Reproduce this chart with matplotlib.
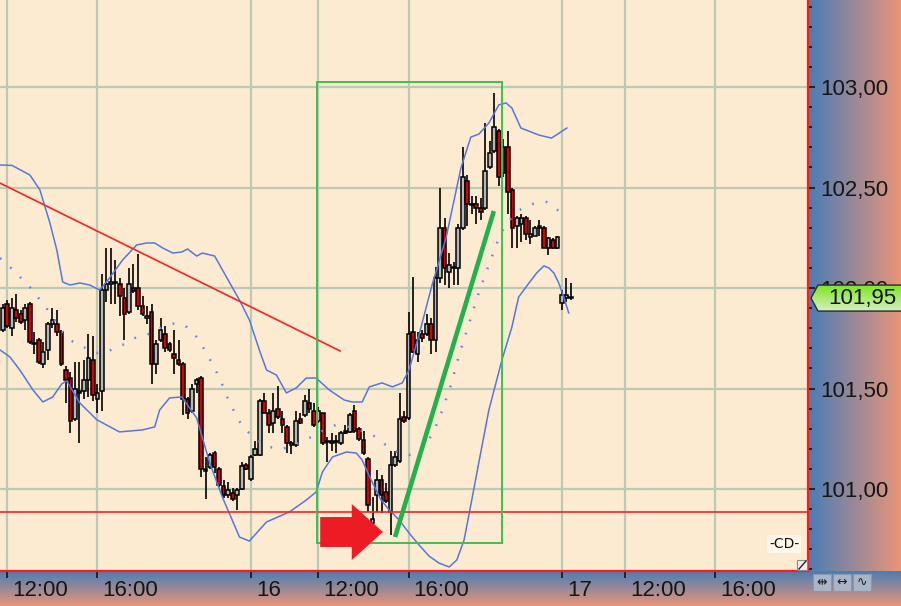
import numpy as np
import matplotlib
matplotlib.use('Agg')
import matplotlib.pyplot as plt
from matplotlib.patches import Rectangle, Polygon, FancyArrow
from matplotlib.transforms import blended_transform_factory, ScaledTranslation
from matplotlib.ticker import MultipleLocator
from matplotlib.colors import to_rgb

plt.rcParams['font.family'] = ['Liberation Sans', 'DejaVu Sans']

# ---------------- data (prices) ----------------
opens = [101.79, 101.92, 101.80, 101.89, 101.87, 101.84, 101.92, 101.725, 101.74, 101.62,
         101.69, 101.82, 101.82, 101.78, 101.59, 101.55, 101.35, 101.49, 101.49, 101.54,
         101.64, 101.45, 101.49, 101.99, 102.02, 102.025, 102.02, 101.95, 101.88, 102.00,
         102.00, 101.91, 101.85, 101.88, 101.62, 101.74, 101.77, 101.72, 101.67, 101.64,
         101.62, 101.45, 101.39, 101.52, 101.55, 101.10, 101.11, 101.18, 101.10, 101.015,
         100.97, 100.98, 100.97, 101.00, 101.12, 101.05, 101.17, 101.17, 101.44, 101.38,
         101.33, 101.40, 101.35, 101.31, 101.22, 101.22, 101.35, 101.37, 101.43, 101.39,
         101.34, 101.38, 101.24, 101.24, 101.235, 101.23, 101.29, 101.285, 101.39, 101.30,
         101.245, 101.15, 100.83, 100.97, 101.045, 100.985, 100.885, 101.12, 101.14, 101.36,
         101.355, 101.78, 101.67, 101.77, 101.77, 101.82, 101.74, 102.05, 102.30, 102.08,
         102.10, 102.10, 102.30, 102.53, 102.42, 102.42, 102.40, 102.40, 102.60, 102.68,
         102.78, 102.70, 102.70, 102.49, 102.31, 102.32, 102.35, 102.255, 102.26, 102.31,
         102.30, 102.20, 102.24, 102.20, 101.925, 101.95, 101.95]
highs = [101.92, 101.94, 101.95, 101.97, 101.89, 101.92, 101.93, 101.78, 101.75, 101.73,
         101.83, 101.90, 101.89, 101.79, 101.61, 101.58, 101.63, 101.63, 101.64, 101.77,
         101.76, 101.52, 102.07, 102.20, 102.20, 102.14, 102.05, 102.00, 102.10, 102.12,
         102.17, 101.96, 101.91, 101.92, 101.74, 101.85, 101.81, 101.73, 101.79, 101.74,
         101.63, 101.46, 101.52, 101.55, 101.56, 101.16, 101.18, 101.19, 101.11, 101.045,
         101.035, 101.005, 101.005, 101.135, 101.13, 101.17, 101.24, 101.45, 101.48, 101.40,
         101.48, 101.51, 101.39, 101.32, 101.24, 101.39, 101.38, 101.47, 101.50, 101.43,
         101.41, 101.38, 101.26, 101.28, 101.27, 101.29, 101.32, 101.38, 101.42, 101.31,
         101.29, 101.16, 100.96, 101.095, 101.07, 101.03, 101.19, 101.19, 101.48, 101.39,
         101.88, 102.055, 101.78, 101.79, 101.87, 101.85, 102.105, 102.50, 102.35, 102.175,
         102.13, 102.32, 102.70, 102.56, 102.46, 102.46, 102.45, 102.82, 102.73, 102.97,
         102.79, 102.74, 102.78, 102.50, 102.36, 102.37, 102.36, 102.34, 102.31, 102.34,
         102.31, 102.255, 102.25, 102.26, 101.99, 102.05, 102.025]
lows = [101.78, 101.80, 101.76, 101.83, 101.82, 101.79, 101.72, 101.67, 101.62, 101.60,
        101.64, 101.80, 101.76, 101.61, 101.43, 101.28, 101.34, 101.23, 101.45, 101.46,
        101.44, 101.38, 101.39, 101.93, 101.92, 101.92, 101.86, 101.74, 101.87, 101.975,
        101.89, 101.86, 101.82, 101.52, 101.57, 101.73, 101.68, 101.68, 101.57, 101.61,
        101.37, 101.35, 101.38, 101.48, 101.06, 100.95, 101.10, 101.08, 101.01, 100.955,
        100.955, 100.94, 100.895, 100.995, 101.095, 101.04, 101.165, 101.165, 101.378, 101.28,
        101.28, 101.35, 101.28, 101.18, 101.175, 101.21, 101.325, 101.36, 101.38, 101.31,
        101.33, 101.22, 101.135, 101.19, 101.18, 101.22, 101.275, 101.28, 101.28, 101.24,
        101.17, 100.885, 100.81, 100.885, 100.88, 100.93, 100.77, 101.11, 101.13, 101.33,
        101.345, 101.675, 101.63, 101.73, 101.76, 101.67, 101.68, 102.025, 102.015, 102.00,
        102.015, 102.015, 102.29, 102.31, 102.37, 102.32, 102.34, 102.39, 102.59, 102.67,
        102.51, 102.55, 102.37, 102.20, 102.20, 102.23, 102.24, 102.22, 102.26, 102.26,
        102.20, 102.165, 102.195, 102.195, 101.89, 101.93, 101.94]
closes = [101.90, 101.81, 101.90, 101.85, 101.83, 101.90, 101.73, 101.72, 101.63, 101.68,
          101.82, 101.84, 101.78, 101.62, 101.54, 101.34, 101.50, 101.48, 101.54, 101.65,
          101.47, 101.48, 101.99, 102.02, 102.03, 102.03, 101.96, 101.87, 102.02, 101.985,
          101.91, 101.87, 101.86, 101.62, 101.72, 101.79, 101.70, 101.69, 101.65, 101.62,
          101.45, 101.38, 101.50, 101.54, 101.10, 101.09, 101.17, 101.11, 101.02, 100.97,
          100.995, 100.95, 100.995, 101.115, 101.10, 101.16, 101.20, 101.44, 101.38, 101.32,
          101.39, 101.36, 101.32, 101.23, 101.23, 101.34, 101.33, 101.44, 101.40, 101.32,
          101.39, 101.23, 101.235, 101.23, 101.24, 101.28, 101.28, 101.37, 101.29, 101.25,
          101.18, 100.92, 100.85, 101.045, 100.97, 100.94, 101.12, 101.16, 101.35, 101.34,
          101.77, 101.68, 101.74, 101.75, 101.82, 101.74, 102.05, 102.30, 102.10, 102.115,
          102.105, 102.30, 102.55, 102.42, 102.415, 102.40, 102.38, 102.58, 102.67, 102.80,
          102.55, 102.57, 102.48, 102.30, 102.35, 102.35, 102.27, 102.27, 102.30, 102.30,
          102.20, 102.25, 102.20, 102.255, 101.965, 101.965, 101.95]

# Bollinger bands (bar index, price)
upper_x = [-0.6, 2.06, 6.04, 8.25, 10.46, 12.0, 13.3, 14.9, 17.1, 19.3, 21.5, 23.7, 26.6,
           29.7, 31.9, 33.7, 35.5, 37.7, 39.7, 41.0, 43.0, 44.3, 47.0, 49.6, 52.5, 54.7,
           56.9, 58.5, 60.7, 62.9, 65.1, 67.3, 69.5, 72.4, 75.7, 77.5, 79.7, 81.3, 84.1,
           86.4, 88.6, 90.1, 92.3, 95.2, 98.3, 101.6, 103.8, 105.6, 107.8, 110.0, 111.6,
           112.9, 114.9, 118.9, 121.7, 125.1]
upper_y = [102.612, 102.61, 102.562, 102.488, 102.324, 102.189, 102.030, 102.015, 102.025,
           102.015, 101.990, 102.050, 102.140, 102.214, 102.224, 102.224, 102.199, 102.174,
           102.179, 102.194, 102.159, 102.174, 102.159, 102.055, 101.940, 101.841, 101.692,
           101.592, 101.567, 101.478, 101.503, 101.552, 101.552, 101.493, 101.443, 101.433,
           101.433, 101.508, 101.528, 101.508, 101.528, 101.592, 101.766, 102.015, 102.249,
           102.597, 102.751, 102.766, 102.821, 102.911, 102.921, 102.896, 102.796, 102.761,
           102.746, 102.796]
mid_x = [-0.6, 0.5, 3.4, 6.0, 8.3, 10.5, 13.3, 15.6, 17.8, 20.9, 23.1, 25.3, 26.6, 29.7,
         31.9, 34.1, 36.3, 38.6, 40.8, 43.0, 45.2, 48.1, 50.3, 53.2, 56.3, 59.1, 62.0, 65.1,
         68.0, 70.9, 73.9, 76.8, 79.7, 82.8, 85.7, 87.9, 90.1, 92.3, 94.5, 96.7, 99.4, 101.2,
         103.8, 105.6, 107.8, 110.0, 111.6, 114.0, 116.0, 118.2, 120.6, 121.7, 123.7, 124.6]
mid_y = [102.149, 102.129, 102.065, 102.005, 101.940, 101.876, 101.781, 101.732, 101.707,
         101.677, 101.682, 101.707, 101.717, 101.756, 101.766, 101.791, 101.816, 101.826,
         101.806, 101.756, 101.677, 101.552, 101.428, 101.309, 101.244, 101.209, 101.199,
         101.224, 101.254, 101.289, 101.319, 101.309, 101.289, 101.259, 101.204, 101.179,
         101.169, 101.194, 101.244, 101.343, 101.518, 101.667, 101.851, 101.980, 102.115,
         102.249, 102.319, 102.378, 102.408, 102.423, 102.428, 102.408, 102.378, 102.358]
lower_x = [-0.6, 1.6, 3.8, 6.7, 8.9, 11.1, 13.1, 14.2, 17.1, 20.9, 25.9, 31.0, 33.7, 34.8,
           37.0, 39.7, 43.0, 45.9, 48.7, 52.5, 54.7, 58.5, 63.6, 67.3, 69.5, 70.9, 73.1,
           76.2, 78.4, 79.7, 81.7, 83.9, 85.7, 87.9, 90.1, 92.3, 94.5, 96.7, 99.0, 100.7,
           102.3, 103.8, 105.6, 107.8, 110.7, 112.9, 114.4, 116.7, 118.4, 120.0, 121.1,
           122.2, 123.3, 124.4, 125.5]
lower_y = [101.692, 101.657, 101.592, 101.493, 101.433, 101.458, 101.523, 101.538, 101.428,
           101.344, 101.284, 101.294, 101.309, 101.393, 101.453, 101.458, 101.354, 101.130,
           100.960, 100.761, 100.741, 100.836, 100.886, 100.945, 100.985, 101.085, 101.159,
           101.184, 101.179, 101.144, 101.045, 100.945, 100.896, 100.846, 100.781, 100.722,
           100.667, 100.632, 100.612, 100.647, 100.746, 100.921, 101.135, 101.393, 101.642,
           101.806, 101.955, 102.025, 102.075, 102.110, 102.100, 102.075, 102.025, 101.955,
           101.876]

tick_bars = [1, 21, 55, 70, 90, 124, 138, 158]
tick_labels = ['12:00', '16:00', '16', '12:00', '16:00', '17', '12:00', '16:00']
price_ticks = [101.0, 101.5, 102.0, 102.5, 103.0]
support_level = 100.885
trend_x = [-0.6, 74.8]
trend_y = [102.522, 101.687]
box_x = [69.7, 110.7]
box_y = [100.731, 103.025]
impulse_x = [87.0, 108.9]
impulse_y = [100.761, 102.383]
arrow_tail_x, arrow_tip_x, arrow_y = 70.4, 84.3, 100.786
last_price = 101.95

# ---------------- figure ----------------
W, H = 901, 606
fig = plt.figure(figsize=(W / 100, H / 100), dpi=100)

BLUE = np.array(to_rgb('#4A7DB4'))
SALMON = np.array(to_rgb('#E9957A'))

bg = fig.add_axes([0, 0, 1, 1], zorder=-10)
bg.axis('off')
t = np.linspace(0, 1, 256)
hgrad = (BLUE[None, :] * (1 - t[:, None]) + SALMON[None, :] * t[:, None])[None, :, :]
vgrad = (BLUE[None, :] * (1 - t[:, None]) + SALMON[None, :] * t[:, None])[:, None, :]
bg.imshow(hgrad, extent=(808, 901, 571, 0), aspect='auto', interpolation='bilinear')
bg.imshow(vgrad, extent=(0, 901, 606, 571), aspect='auto', interpolation='bilinear')
bg.set_xlim(0, W)
bg.set_ylim(H, 0)

ax = fig.add_axes([0, 35 / H, 808 / W, 571 / H], zorder=0)
ax.set_facecolor('#FDEBD1')
ax.set_xlim(-0.6, 178.56)
ax.set_ylim(100.592, 103.433)

# grid
ax.set_xticks(tick_bars)
ax.set_yticks(price_ticks)
ax.set_yticklabels([f"{v:.2f}".replace('.', ',') for v in price_ticks])
ax.yaxis.set_minor_locator(MultipleLocator(0.1))
ax.grid(True, which='major', color='#BCCAB4', lw=1.6, zorder=0.5)
ax.set_axisbelow(True)

ax.yaxis.tick_right()
ax.tick_params(axis='y', which='major', length=5, width=1.4, color='#222222',
               pad=4, labelsize=16, labelcolor='#151515')
ax.tick_params(axis='y', which='minor', length=3, width=1.4, color='#222222')
ax.tick_params(axis='x', which='major', length=5, width=1.4, color='#222222',
               labelbottom=False, direction='out')
for s in ['top', 'left']:
    ax.spines[s].set_visible(False)
for s in ['right', 'bottom']:
    ax.spines[s].set_color('#FF1A1A')
    ax.spines[s].set_linewidth(1.6)

# x labels
xlab_tr = blended_transform_factory(ax.transData, ax.transAxes) + \
    ScaledTranslation(5 / 100, -19 / 100, fig.dpi_scale_trans)
for b, lab in zip(tick_bars, tick_labels):
    ax.text(b, 0, lab, transform=xlab_tr, ha='left', va='center', fontsize=16,
            color='#151515', clip_on=False)

# candles
idx = np.arange(len(opens))
o = np.array(opens); c = np.array(closes); hi = np.array(highs); lo = np.array(lows)
up = c >= o
ax.vlines(idx, lo, hi, color='black', lw=1.2, zorder=2.5)
bottoms = np.minimum(o, c)
heights = np.maximum(np.abs(c - o), 0.004)
colors = np.where(up, '#B7B7B7', '#D60000')
ax.bar(idx, heights, bottom=bottoms, width=0.8, color=colors, edgecolor='black',
       linewidth=1.1, zorder=3)

# bands
ax.plot(upper_x, upper_y, color='#5577DD', lw=1.1, zorder=4)
ax.plot(lower_x, lower_y, color='#5577DD', lw=1.1, zorder=4)
ax.plot(mid_x, mid_y, color='#6688E6', lw=1.8, linestyle=(0, (0.7, 4.8)), zorder=4)

# annotations
ax.axhline(support_level, color='#FF2020', lw=1.2, zorder=5)
ax.plot(trend_x, trend_y, color='#FF2020', lw=1.2, zorder=5)
ax.add_patch(Rectangle((box_x[0], box_y[0]), box_x[1] - box_x[0], box_y[1] - box_y[0],
                       fill=False, edgecolor='#3CBF50', lw=1.4, zorder=5))
ax.plot(impulse_x, impulse_y, color='#22B14C', lw=3.3, solid_capstyle='butt', zorder=5)
ax.add_patch(FancyArrow(arrow_tail_x, arrow_y, arrow_tip_x - arrow_tail_x, 0,
                        width=0.149, head_width=0.279, head_length=6.9,
                        length_includes_head=True, color='#ED1C24', lw=0, zorder=6))

# ---------------- overlay (price marker, icons) ----------------
ov = fig.add_axes([0, 0, 1, 1], zorder=10)
ov.axis('off')
ov.patch.set_alpha(0)

y_disp = ax.transData.transform((0, last_price))[1]
yc = H - y_disp
pts = [(811, yc), (818, yc - 13), (902, yc - 13), (902, yc + 13), (818, yc + 13)]
g_top = np.array(to_rgb('#7EE620')); g_bot = np.array(to_rgb('#D6EEC4'))
ggrad = (g_top[None, :] * (1 - t[:, None]) + g_bot[None, :] * t[:, None])[:, None, :]
poly_clip = Polygon(pts, closed=True, transform=ov.transData, facecolor='none')
im = ov.imshow(ggrad, extent=(811, 902, yc + 13, yc - 13), aspect='auto', zorder=2)
im.set_clip_path(poly_clip)
ov.add_patch(Polygon(pts, closed=True, fill=False, edgecolor='#2A2A2A', lw=1.0, zorder=3))
ov.text(828, yc + 0.5, f"{last_price:.2f}".replace('.', ','), ha='left', va='center',
        fontsize=16, color='#111111', zorder=4)

# chain icon
ov.text(784, 544, '-CD-', ha='center', va='center', fontsize=10, family='DejaVu Sans',
        color='#111111', bbox=dict(boxstyle='square,pad=0.15', fc='#FFF6EA', ec='none'))
# resize handle
ov.add_patch(Rectangle((797, 560), 10, 10, fc='#EFEFEF', ec='#8A8A8A', lw=0.8, zorder=3))
ov.plot([799, 806], [569, 561], color='#222222', lw=1.0, zorder=4)
# bottom-right buttons
for bx, sym in zip([813, 833, 853], ['\u21f9', '\u2194', '\u223f']):
    ov.add_patch(Rectangle((bx, 574), 18, 17, fc='#A9B5C8', ec='#8C98AA', lw=0.8, zorder=3))
    ov.text(bx + 9, 582, sym, ha='center', va='center', fontsize=9, family='DejaVu Sans',
            color='#1A1A1A', zorder=4)

ov.set_xlim(0, W)
ov.set_ylim(H, 0)

fig.savefig('out.png', dpi=100)
